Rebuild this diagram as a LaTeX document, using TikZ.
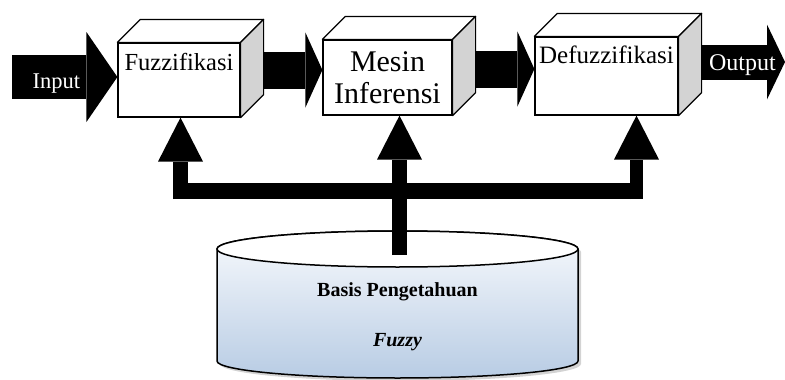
\documentclass[tikz,border=0pt]{standalone}
\usepackage{fontspec}
\setmainfont{Liberation Serif}
\usepackage{xcolor}
\usepackage{tikz}
\usetikzlibrary{arrows.meta, positioning, calc, backgrounds, shadows}
\definecolor{sisiabu}{HTML}{D3D3D3}
\definecolor{biruatas}{HTML}{F8FAFD}
\definecolor{birudasar}{HTML}{B8CCE4}
\tikzset{
  kotak/.style={rectangle, draw=black, fill=white, line width=1.2pt,
    align=center, inner xsep=2pt, inner ysep=6pt,
    font=\fontsize{24.5}{26}\selectfont},
  tutup/.style={draw=black, fill=white, line width=1.2pt, line join=round},
  samping/.style={draw=black, fill=sisiabu, line width=1.2pt, line join=round},
  panahblok/.style={line width=37pt,
    -{Triangle[length=17pt, width=75pt, line width=0pt]}},
  panahatas/.style={line width=15pt,
    -{Triangle[length=44pt, width=45pt, line width=0pt]}},
  batang/.style={line width=16pt},
  labelputih/.style={text=white, inner sep=0pt, anchor=base},
  teksbasis/.style={font=\bfseries\fontsize{20}{50}\selectfont, align=center},
  tabung/.style={draw=black, line width=1.5pt}
}

\begin{document}
\begin{tikzpicture}[x=1pt, y=-1pt]
    \useasboundingbox (0,0) rectangle (785,380);

    % Kotak proses
    \node[kotak, minimum width=122pt, text height=21pt, text depth=41pt]
      (fuzz) at (179,80) {Fuzzifikasi};
    \node[kotak, minimum width=129pt, minimum height=75pt,
          font=\fontsize{30}{32}\selectfont]
      (mesin) at (387.5,77.5) {Mesin\\Inferensi};
    \node[kotak, minimum width=143pt, text height=20pt, text depth=46pt,
          font=\fontsize{25}{27}\selectfont]
      (defuzz) at (606.5,76) {Defuzzifikasi};

    % Sisi atas dan samping kotak
    \foreach \n in {fuzz, mesin, defuzz}{
      \draw[tutup] (\n.north west) -- ++(23,-23)
        -- ($(\n.north east)+(23,-23)$) -- (\n.north east) -- cycle;
      \draw[samping] (\n.north east) -- ++(23,-23)
        -- ($(\n.south east)+(23,-23)$) -- (\n.south east) -- cycle;
    }

    % Basis pengetahuan
    \node[teksbasis] (basis) at (397.5,317) {Basis Pengetahuan\\\textit{Fuzzy}};

    \coordinate (masuk) at (12,77);
    \coordinate (keluar) at (785,62);
    \coordinate (kiri) at (173,191);
    \coordinate (kanan) at (643,191);
    \coordinate (k1) at (180.5,199);
    \coordinate (k2) at (399.5,255);
    \coordinate (k3) at (636.5,199);

    \begin{scope}[on background layer]
      % Tabung
      \path[tabung, top color=biruatas, bottom color=birudasar,
            drop shadow={opacity=0.35, shadow xshift=3pt, shadow yshift=-3pt}]
        (217,249) -- (217,361)
        arc[start angle=180, end angle=0, x radius=180.5, y radius=17]
        -- (578,249)
        arc[start angle=0, end angle=-180, x radius=180.5, y radius=18] -- cycle;
      \draw[tabung, fill=white] (397.5,249) ellipse[x radius=180.5, y radius=18];

      % Aliran utama
      \draw[panahblok, line width=44pt,
            -{Triangle[length=31pt, width=90pt, line width=0pt]}]
        (masuk) -- (fuzz.west |- masuk)
        node[labelputih, pos=0.42, yshift=-11pt, font=\fontsize{22.5}{24}\selectfont] {Input};
      \draw[panahblok] (fuzz.east |- 0,70) -- (mesin.west |- 0,70);
      \draw[panahblok] (mesin.east |- 0,69) -- (defuzz.west |- 0,69);
      \draw[panahblok, line width=35pt,
            -{Triangle[length=18pt, width=75pt, line width=0pt]}]
        (defuzz.east |- keluar) -- (keluar)
        node[labelputih, pos=0.6, yshift=-8pt, font=\fontsize{24}{26}\selectfont] {Output};

      % Cabang dari basis
      \draw[batang] (kiri) -- (kanan);
      \draw[panahatas] (k1) -- (fuzz.south -| k1);
      \draw[panahatas] (k2) -- (mesin.south -| k2);
      \draw[panahatas, line width=13pt] (k3) -- (defuzz.south -| k3);
    \end{scope}
\end{tikzpicture}
\end{document}
